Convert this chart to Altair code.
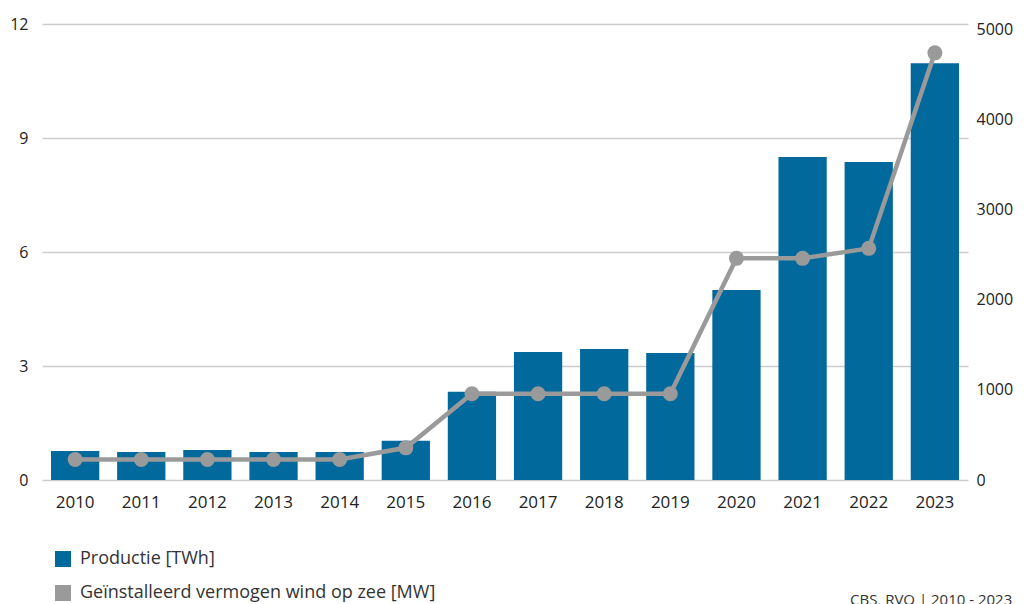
import altair as alt
import pandas as pd

years = ["2010", "2011", "2012", "2013", "2014", "2015", "2016",
         "2017", "2018", "2019", "2020", "2021", "2022", "2023"]
productie = [0.76, 0.74, 0.79, 0.74, 0.74, 1.03, 2.32,
             3.37, 3.45, 3.34, 5.0, 8.5, 8.37, 10.97]
vermogen = [228, 228, 228, 228, 228, 357, 957,
            957, 957, 957, 2460, 2460, 2571, 4741]
series_names = ["Productie [TWh]", "Geïnstalleerd vermogen wind op zee [MW]"]
left_ticks = [0, 3, 6, 9, 12]
right_ticks = [0, 1000, 2000, 3000, 4000, 5000]
source_text = ["CBS, RVO | 2010 - 2023"]

BLUE = "#02699c"
GREY = "#9a9a9a"
FONT = "Open Sans"

df = pd.DataFrame({
    "jaar": years,
    "productie": productie,
    "vermogen": vermogen,
    "serie": series_names[0],
})

x_enc = alt.X(
    "jaar:O",
    scale=alt.Scale(paddingInner=0.27, paddingOuter=0.136),
    axis=alt.Axis(title=None, labelAngle=0, domain=False, ticks=False,
                  labelPadding=14, labelFontSize=17, labelColor="#222",
                  labelFont=FONT),
)

bars = alt.Chart(df).mark_bar().encode(
    x=x_enc,
    y=alt.Y(
        "productie:Q",
        scale=alt.Scale(domain=[0, 12], nice=False),
        axis=alt.Axis(values=left_ticks, title=None, domain=False, ticks=False,
                      labelPadding=14, labelFontSize=16, labelColor="#222",
                      labelFont=FONT, gridColor="#cccccc", gridWidth=1.5),
    ),
    color=alt.Color(
        "serie:N",
        scale=alt.Scale(domain=series_names, range=[BLUE, GREY]),
        legend=alt.Legend(
            title=None, orient="none", legendX=12, legendY=526,
            symbolType="square", symbolSize=256, symbolStrokeWidth=0,
            labelFontSize=18, labelFont=FONT, labelColor="#333",
            labelOffset=8, rowPadding=16, padding=0, labelLimit=600,
        ),
    ),
)

line = alt.Chart(df).mark_line(
    color=GREY, strokeWidth=4.5,
    point=alt.OverlayMarkDef(size=225, filled=True, color=GREY, opacity=1),
).encode(
    x=alt.X("jaar:O"),
    y=alt.Y(
        "vermogen:Q",
        scale=alt.Scale(domain=[0, 5061], nice=False),
        axis=alt.Axis(orient="right", values=right_ticks, format="d", title=None,
                      grid=False, domain=False, ticks=False, labelPadding=8,
                      labelFontSize=16, labelColor="#222", labelFont=FONT),
    ),
)

source = alt.Chart(pd.DataFrame({"t": source_text})).mark_text(
    align="left", baseline="top", fontSize=15, color="#333", font=FONT
).encode(x=alt.value(808), y=alt.value(569), text="t:N")

chart = alt.layer(bars, line, source).resolve_scale(y="independent").properties(
    width=926, height=456,
    autosize=alt.AutoSizeParams(type="none"),
    padding={"left": 34, "top": 16, "right": 48, "bottom": 124},
).configure_view(stroke=None)

chart.save("out.html", embed_options={"renderer": "svg", "actions": False})
